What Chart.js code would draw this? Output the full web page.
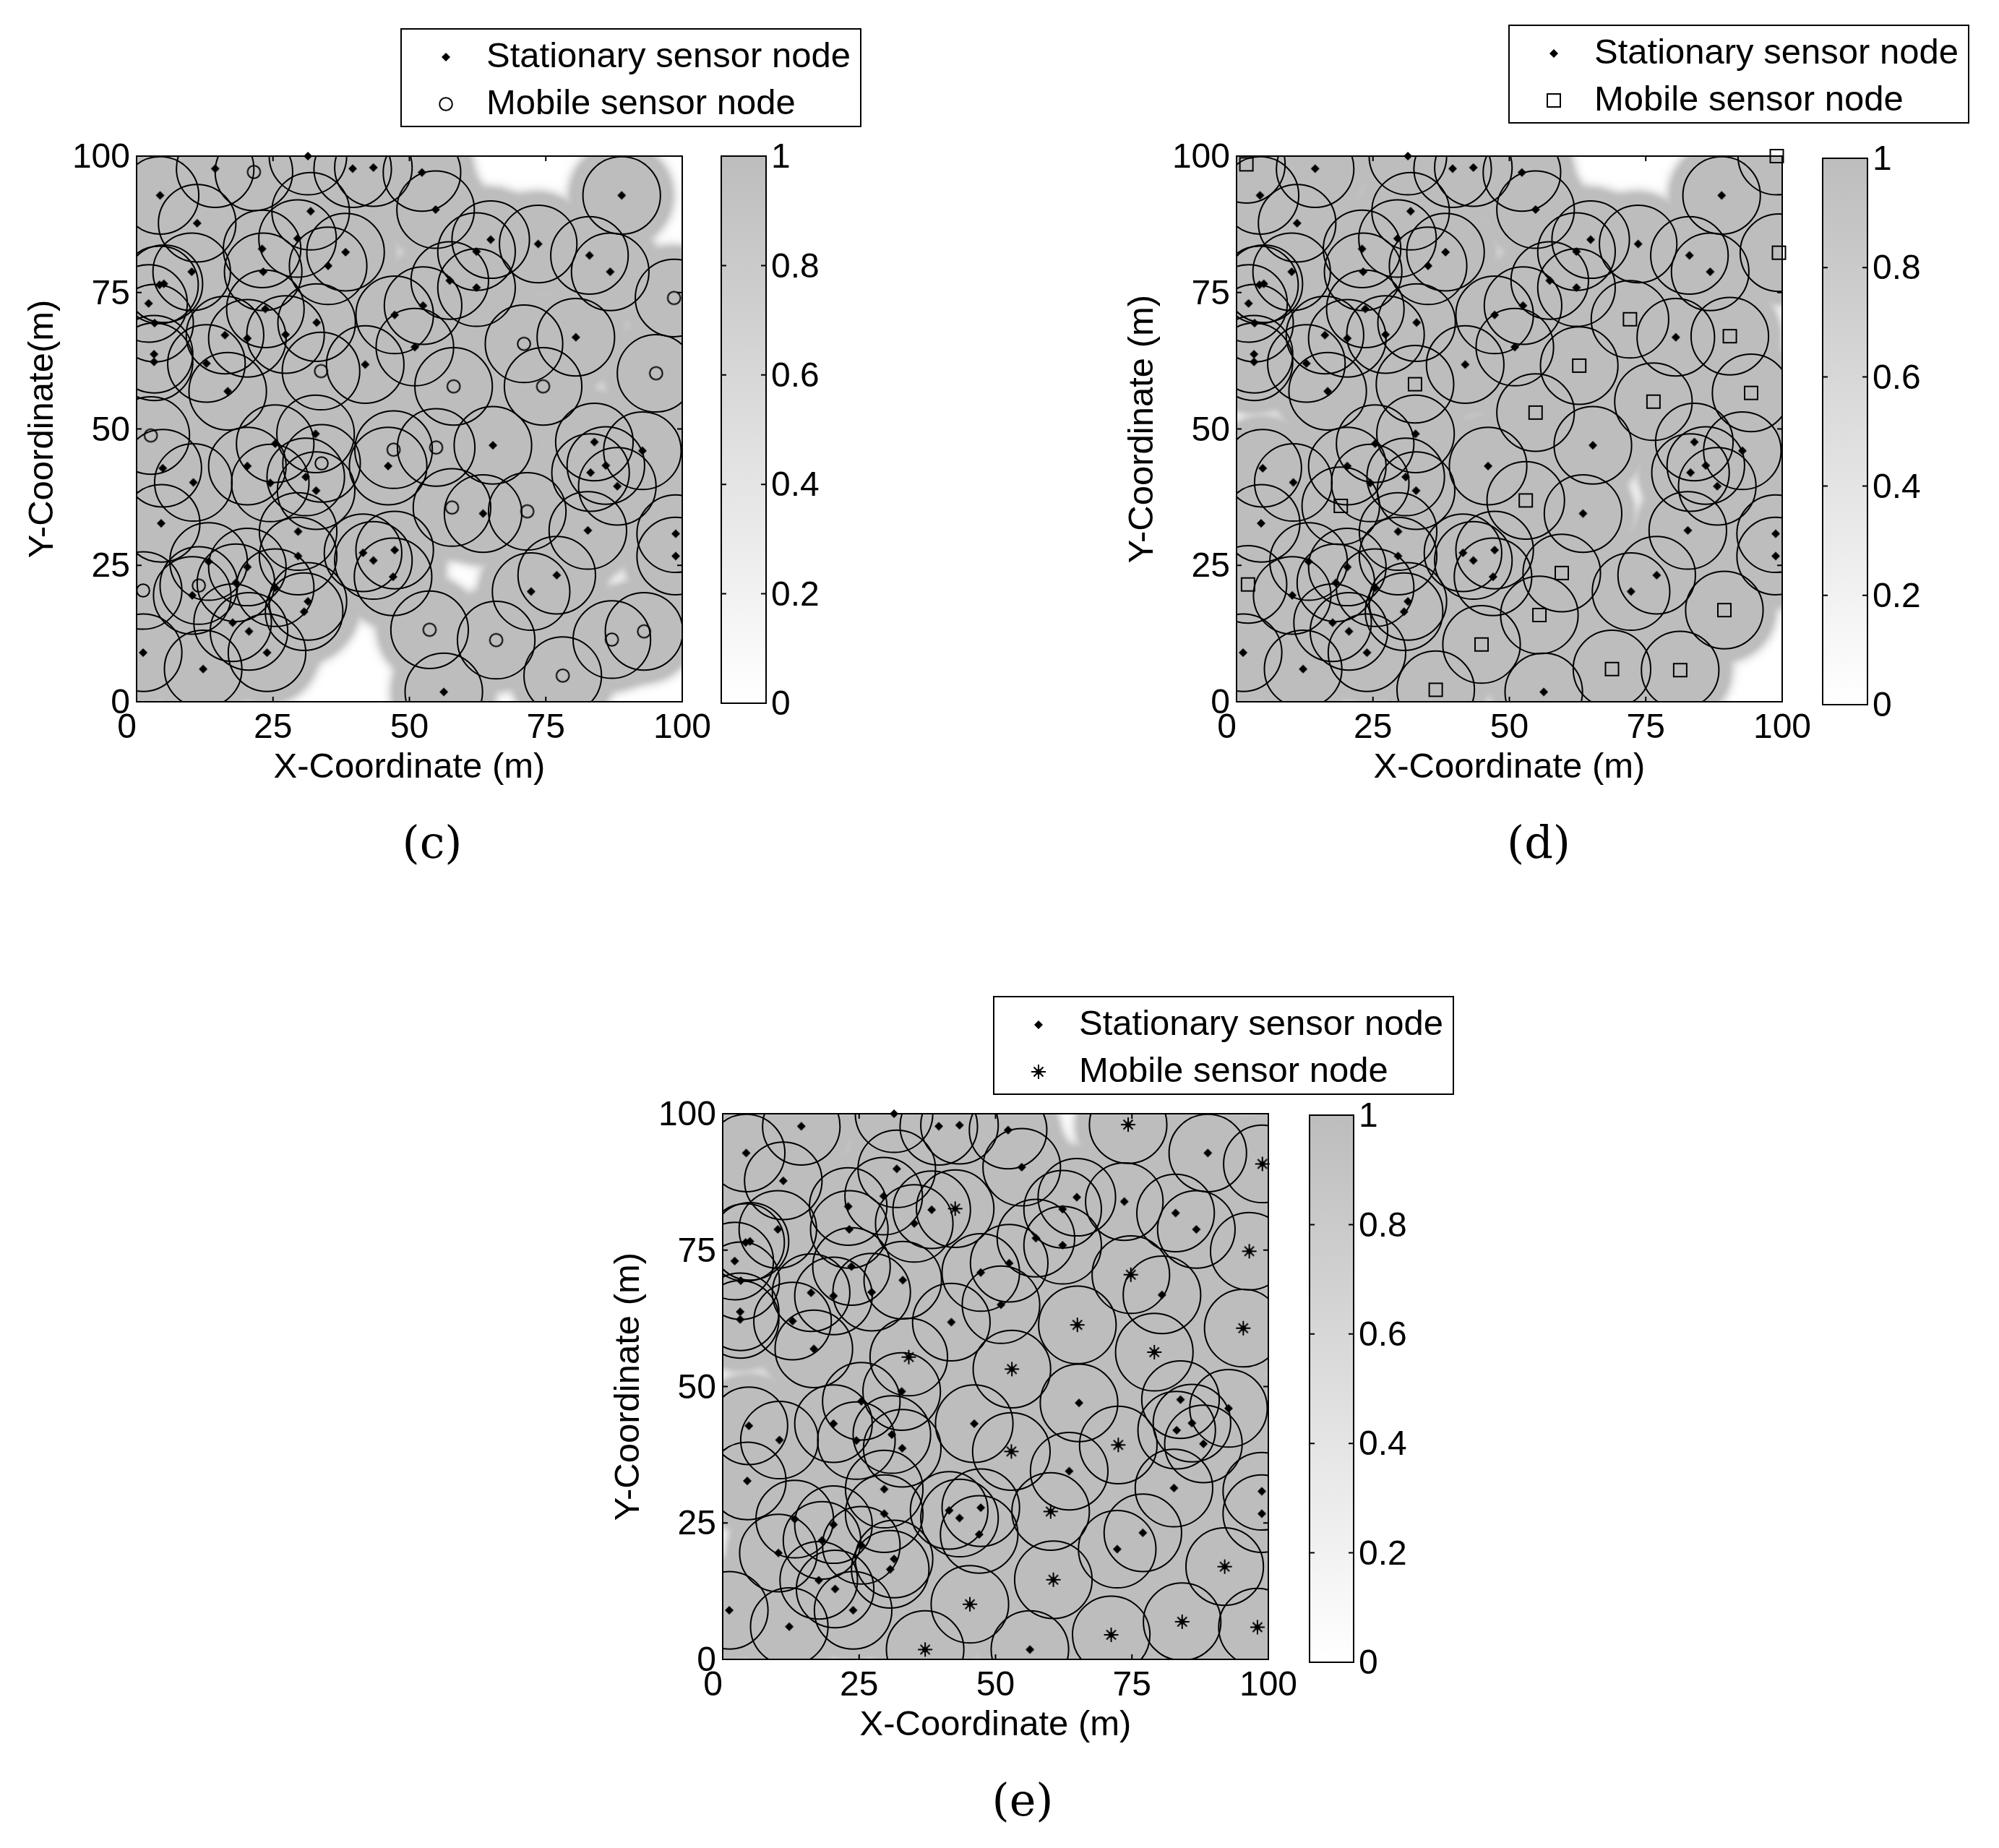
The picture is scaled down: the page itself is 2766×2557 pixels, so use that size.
<!DOCTYPE html>
<html>
<head>
<meta charset="utf-8">
<script src="https://cdn.jsdelivr.net/npm/chart.js@4/dist/chart.umd.min.js"></script>
<style>
html,body{margin:0;padding:0;background:#fff}
#page{position:relative;width:2766px;height:2557px;overflow:hidden;background:#fff}
canvas{position:absolute}
</style>
</head>
<body>
<div id="page"></div>
<script>
// ---- data (metres) ----
const stationaryX = [31.4,14.4,39.6,43.4,52.3,4.3,88.9,54.8,31.9,11.1,29.5,64.9,73.6,23,38.3,62.3,83,35.1,86.8,23.2,10.1,57.4,4.2,5,62.3,2.2,52.5,23.6,47.3,33,27.3,16.2,20.3,80.5,51,3.2,3.2,12.8,41.9,16.7,3.3,32.8,83.9,65.3,25.4,92.7,4.8,46.1,20.3,86,83.2,31,10.4,24.5,32.9,88.1,63.5,4.5,82.7,29.6,98.8,41.5,47.3,29.6,98.8,43.4,13.2,20.3,77,47,18.2,72.3,10.2,25.4,31.4,30.7,17.6,20.6,1.2,23.9,12.2,56.3];
const stationaryY = [100,97.7,97.7,97.9,97,92.8,92.8,90.2,89.9,87.7,84.9,84.7,83.9,83,82.4,82.5,81.8,79.9,78.8,78.8,78.8,77.2,76.4,76.6,75.9,73,72.6,72,70.9,69.5,67.3,67.2,66.6,66.8,65,63.7,62.3,62,61.8,56.9,69.4,49.1,47.6,47,47.3,46,42.8,43.2,43.2,43.3,42,41.2,40.2,40.1,38.7,39.5,34.5,32.7,31.4,31.2,30.8,27.3,27.8,26.7,26.7,25.9,25.7,24.7,23.2,22.9,21.8,20.2,19.5,20.9,18.4,16.5,14.5,12.9,9,9,6,1.8];

const mobileCircleX = [21.5,98.5,71,33.8,95.2,58.1,74.5,2.6,47.1,54.9,33.9,57.8,71.6,11.4,1.2,53.7,93,65.9,87.1,78.1];
const mobileCircleY = [97.1,74,65.6,60.6,60.2,57.8,57.8,48.8,46.2,46.6,43.7,35.6,34.9,21.3,20.4,13.2,12.9,11.3,11.4,4.8];

const mobileSquareX = [1.8,99,99.4,72.1,90.4,62.8,32.7,94.3,76.4,54.8,53,19.1,59.6,2.1,55.5,89.4,44.9,68.8,81.3,36.5];
const mobileSquareY = [98.5,100,82.3,70.1,67,61.6,58.2,56.6,55,53,36.9,35.9,23.6,21.5,15.9,16.8,10.5,6,5.8,2.2];

const mobileStarX = [74.3,98.9,42.6,96.5,74.8,65,95.4,79.1,34.1,53,72.5,52.9,60.1,60.6,92,45.3,84.2,98,71.2,37.1];
const mobileStarY = [98,90.8,82.6,74.8,70.5,61.3,60.7,56.3,55.4,53.2,39.3,38.1,27.1,14.6,17,10.1,6.9,5.9,4.5,1.8];

const sensingRadius = 7.1;
const axisTicks = [0,25,50,75,100];
const colorbarTicks = [0,0.2,0.4,0.6,0.8,1];
const stationaryLabel = 'Stationary sensor node';
const mobileLabel = 'Mobile sensor node';
const xTitle = 'X-Coordinate (m)';
const yTitleC = 'Y-Coordinate(m)';
const yTitleOther = 'Y-Coordinate (m)';

// ---- styling helpers ----
const INK = '#000';
const FULL_GRAY = 189;
Chart.defaults.font.family = '"Liberation Sans", Arial, sans-serif';
Chart.defaults.color = INK;
Chart.defaults.animation = false;

function grayFor(v){ return Math.round(255 - v*(255-FULL_GRAY)); }

function marker(kind){
  const s = 28, c = document.createElement('canvas');
  c.width = s; c.height = s;
  const g = c.getContext('2d'), m = s/2;
  g.strokeStyle = INK; g.fillStyle = INK; g.lineWidth = 2;
  if(kind==='diamond'){
    g.beginPath(); g.moveTo(m,m-6); g.lineTo(m+6,m); g.lineTo(m,m+6); g.lineTo(m-6,m); g.closePath(); g.fill();
    g.beginPath(); g.arc(m,m,3.5,0,Math.PI*2); g.fill();
  } else if(kind==='circle'){
    g.beginPath(); g.arc(m,m,8.8,0,Math.PI*2); g.stroke();
  } else if(kind==='square'){
    g.strokeRect(m-9,m-9,18,18);
  } else {
    g.lineWidth = 2;
    g.beginPath();
    g.moveTo(m-10,m); g.lineTo(m+10,m); g.moveTo(m,m-10); g.lineTo(m,m+10);
    g.moveTo(m-6.5,m-6.5); g.lineTo(m+6.5,m+6.5); g.moveTo(m+6.5,m-6.5); g.lineTo(m-6.5,m+6.5);
    g.stroke();
    g.beginPath(); g.arc(m,m,3.8,0,Math.PI*2); g.fill();
  }
  return c;
}

function points(xs,ys){ return xs.map((x,i)=>({x,y:ys[i]})); }

// coverage field painted behind the rings, from the node arrays and through the scales
const coveragePlugin = {
  id:'coverage',
  beforeDatasetsDraw(chart){
    const nodes = chart.options.plugins.coverage.nodes;
    if(!nodes) return;
    const a = chart.chartArea, X = chart.scales.x, Y = chart.scales.y;
    const step = 2, w = Math.round(a.width/step), h = Math.round(a.height/step);
    const off = document.createElement('canvas'); off.width = w; off.height = h;
    const g = off.getContext('2d'), img = g.createImageData(w,h);
    for(let j=0;j<h;j++){
      const vy = Y.getValueForPixel(a.top+(j+.5)*step);
      for(let i=0;i<w;i++){
        const vx = X.getValueForPixel(a.left+(i+.5)*step);
        let miss = 1;
        for(const n of nodes){
          const d = Math.hypot(n.x-vx,n.y-vy);
          const f = d<=8.7 ? 1 : Math.exp(-0.5*(d-8.7)*(d-8.7));
          miss *= 1-f;
          if(miss===0) break;
        }
        const v = grayFor(1-miss), k=(j*w+i)*4;
        img.data[k]=img.data[k+1]=img.data[k+2]=v; img.data[k+3]=255;
      }
    }
    g.putImageData(img,0,0);
    const ctx = chart.ctx; ctx.save();
    ctx.imageSmoothingEnabled = true; ctx.imageSmoothingQuality='high';
    ctx.drawImage(off,a.left,a.top,a.width,a.height);
    ctx.restore();
  }
};

// MATLAB-style box: frame plus inward tick marks on every side
const framePlugin = {
  id:'frame',
  afterDraw(chart){
    const a = chart.chartArea, ctx = chart.ctx, len = 7;
    ctx.save(); ctx.strokeStyle = INK; ctx.lineWidth = 2;
    ctx.strokeRect(a.left,a.top,a.width,a.height);
    ctx.beginPath();
    const Y = chart.scales.y, X = chart.scales.x;
    Y.ticks.forEach(t=>{ const p=Y.getPixelForValue(t.value);
      ctx.moveTo(a.left,p); ctx.lineTo(a.left+len,p); ctx.moveTo(a.right,p); ctx.lineTo(a.right-len,p); });
    if(X.type==='linear') X.ticks.forEach(t=>{ const p=X.getPixelForValue(t.value);
      ctx.moveTo(p,a.top); ctx.lineTo(p,a.top+len); ctx.moveTo(p,a.bottom); ctx.lineTo(p,a.bottom-len); });
    ctx.stroke();
    const box = chart.options.plugins.frame.legendBox;
    if(box){ ctx.lineWidth=2; ctx.strokeRect(box.l,box.t,box.r-box.l,box.b-box.t); }
    ctx.restore();
  },
  afterLayout(chart){
    const box = chart.options.plugins.frame.legendBox, L = chart.legend;
    if(box && L){
      L.left = box.l+14.5; L.right = box.r; L.top = box.t-1.5; L.bottom = box.b+60;
      L.width = L.right-L.left; L.height = L.bottom-L.top;
    }
  }
};

function panel(p){
  const host = document.getElementById('page');
  const cv = document.createElement('canvas');
  const LEFT = 189, AXIS_B = 124, TITLE_H = 129;
  const left = p.plot.l-LEFT, top = p.plot.t-216;
  const height = 216+(p.plot.b-p.plot.t)+AXIS_B+TITLE_H;
  cv.style.left = left+'px'; cv.style.top = top+'px';
  cv.width = p.width; cv.height = height;
  host.appendChild(cv);
  const nodes = points(stationaryX,stationaryY).concat(points(p.mx,p.my));
  const ring = ctx => { const X = ctx.chart.scales.x; return X.getPixelForValue(sensingRadius)-X.getPixelForValue(0); };
  const ringDs = (xs,ys) => ({label:'',data:points(xs,ys),pointStyle:'circle',pointRadius:ring,pointBorderWidth:2,
    pointBorderColor:INK,pointBackgroundColor:'transparent',clip:0,order:3});
  const rightW = p.width-LEFT-(p.plot.r-p.plot.l);
  new Chart(cv,{
    type:'scatter',
    data:{datasets:[
      {label:stationaryLabel,data:points(stationaryX,stationaryY),pointStyle:marker('diamond'),pointRadius:6,clip:false,order:1},
      {label:mobileLabel,data:points(p.mx,p.my),pointStyle:marker(p.kind),pointRadius:9,clip:false,order:2},
      ringDs(stationaryX,stationaryY), ringDs(p.mx,p.my)
    ]},
    options:{
      responsive:false, animation:false, events:[],
      layout:{padding:{top:216,right:0,left:0,bottom:0}},
      scales:{
        x:{type:'linear',min:0,max:100,grid:{display:false,drawTicks:false},border:{display:false},
          afterBuildTicks:s=>{s.ticks=axisTicks.map(v=>({value:v}));},
          afterFit:s=>{s.height=AXIS_B;},
          ticks:{font:{size:48},padding:8,maxRotation:0,autoSkip:false,callback:v=>v===0?'0  ':String(v)},
          title:{display:true,text:xTitle,font:{size:49},padding:{top:0,bottom:3}}},
        y:{type:'linear',min:0,max:100,grid:{display:false,drawTicks:false},border:{display:false},
          afterBuildTicks:s=>{s.ticks=axisTicks.map(v=>({value:v}));},
          afterFit:s=>{s.width=LEFT;},
          ticks:{font:{size:48},padding:9,labelOffset:3,autoSkip:false,callback:v=>String(v)},
          title:{display:true,text:p.yTitle,font:{size:49},padding:{top:30,bottom:0}}},
        side:{type:'linear',position:'right',display:true,min:0,max:1,grid:{display:false,drawTicks:false},border:{display:false},
          ticks:{display:false},afterFit:s=>{s.width=rightW;}}
      },
      plugins:{
        tooltip:{enabled:false},
        coverage:{nodes},
        frame:{legendBox:{l:p.legend.l-left,r:p.legend.r-left,t:p.legend.t-top,b:p.legend.b-top}},
        title:{display:true,position:'bottom',text:p.caption,fullSize:true,
          font:{family:'"DejaVu Serif", serif',size:62,weight:'normal',lineHeight:1.2},
          padding:{top:39,bottom:129-39-74.4}},
        legend:{display:true,position:'chartArea',align:'start',
          labels:{font:{size:49},padding:16,usePointStyle:true,pointStyleWidth:63,
            filter:it=>it.text!==''}}
      }
    },
    plugins:[coveragePlugin,framePlugin]
  });
}

function colorbar(b){
  const host = document.getElementById('page');
  const cv = document.createElement('canvas');
  const padL=12,padT=50,padB=50,right=110;
  cv.style.left=(b.l-padL)+'px'; cv.style.top=(b.t-padT)+'px';
  cv.width=padL+(b.r-b.l)+right; cv.height=padT+(b.b-b.t)+padB;
  host.appendChild(cv);
  new Chart(cv,{
    type:'bar',
    data:{labels:['coverage'],datasets:[{label:'coverage',data:[1],barPercentage:1,categoryPercentage:1,borderWidth:0,
      backgroundColor:ctx=>{
        const c=ctx.chart, Y=c.scales.y;
        const y0 = Y ? Y.getPixelForValue(0) : NaN, y1 = Y ? Y.getPixelForValue(1) : NaN;
        if(!c.chartArea || !Number.isFinite(y0) || !Number.isFinite(y1)) return '#ccc';
        const g=c.ctx.createLinearGradient(0,y0,0,y1);
        g.addColorStop(0,`rgb(${grayFor(0)},${grayFor(0)},${grayFor(0)})`);
        g.addColorStop(1,`rgb(${grayFor(1)},${grayFor(1)},${grayFor(1)})`);
        return g;
      }}]},
    options:{
      responsive:false,animation:false,events:[],
      layout:{padding:{left:padL,top:padT,bottom:padB,right:0}},
      scales:{
        x:{display:false},
        y:{position:'right',min:0,max:1,grid:{display:false,drawTicks:false},border:{display:false},
          afterBuildTicks:s=>{s.ticks=colorbarTicks.map(v=>({value:v}));},
          afterFit:s=>{s.width=right;},
          ticks:{font:{size:48},padding:7,labelOffset:3,autoSkip:false,callback:v=>String(v)}}
      },
      plugins:{legend:{display:false},tooltip:{enabled:false},title:{display:false},frame:{}}
    },
    plugins:[framePlugin]
  });
}

panel({caption:'(c)',yTitle:yTitleC,kind:'circle',mx:mobileCircleX,my:mobileCircleY,width:1196,
  plot:{l:189,r:944,t:216,b:971},legend:{l:555,r:1191,t:40,b:175}});
panel({caption:'(d)',yTitle:yTitleOther,kind:'square',mx:mobileSquareX,my:mobileSquareY,width:1214,
  plot:{l:1711,r:2466,t:216,b:971},legend:{l:2088,r:2724,t:35,b:170}});
panel({caption:'(e)',yTitle:yTitleOther,kind:'star',mx:mobileStarX,my:mobileStarY,width:1208,
  plot:{l:1000,r:1755,t:1541,b:2296},legend:{l:1375,r:2011,t:1379,b:1514}});

colorbar({l:998,r:1060,t:216,b:973});
colorbar({l:2522,r:2584,t:219,b:975});
colorbar({l:1812,r:1873,t:1543,b:2300});
</script>
</body>
</html>
